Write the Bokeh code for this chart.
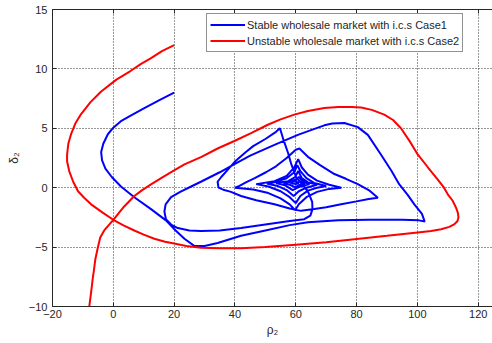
from bokeh.plotting import figure
from bokeh.models import Range1d, Legend, LegendItem, FixedTicker, LinearAxis, CustomJSTickFormatter
from bokeh.embed import file_html
from bokeh.resources import INLINE

# Case 1 (stable) trajectory
blue_x = [20, 15, 10.2, 6, 2.5, 0, -1.8, -3.3, -4.0, -3.7, -2.6, -0.5, 2.5, 6.9, 12.4, 17.3, 20.5, 23.4, 26.6, 30,
          34.3, 42, 50, 58, 64, 74, 84, 95, 100.5, 102.4, 101.5, 99, 96.8, 94, 91.5, 88, 83.7, 80.4, 76, 72,
          69.4, 65, 60.7, 53, 45, 40, 35, 28.8, 25.6, 22, 19, 17.2, 16.8, 17.3, 19, 21.2, 25, 28.8, 35, 42,
          50, 58, 62.8, 64.8, 65.5, 65.4, 64, 62, 60.1, 58.5, 57.5, 56, 54.8, 53.5, 50, 46, 43.6, 40, 37.6, 35.5,
          34.3, 34.6, 36.5, 38.7, 42, 47, 53, 58, 61.7, 66.1, 70, 74.9, 80, 84, 87, 84, 80.4, 76.5, 72.7, 68,
          64, 61.2, 60, 57, 53.5, 50.2, 46.5, 43.6, 41.5, 40,
          46, 51, 55, 58, 59.8, 61, 63.5, 67, 71, 75, 71, 67, 64, 62, 60.8, 59.5, 57, 53, 47,
          51, 55, 58, 60, 61.5, 64, 67, 70, 66, 63.5, 61.5, 60.5, 59.5, 57, 53, 50.5,
          54, 57, 59.3, 61, 63.5, 67, 64, 62, 60.8, 59.8, 57.5, 53.5,
          56.5, 59, 61, 64.5, 62.5, 61, 60, 58, 56,
          58, 59.8, 61, 63, 61.5, 60.5, 59.8, 58, 59, 60, 61, 60.3, 60]
blue_y = [8.0, 7.35, 6.7, 6.1, 5.6, 5.05, 4.5, 3.7, 3.0, 2.3, 1.6, 0.9, 0.1, -0.8, -1.8, -2.75, -3.6, -4.3, -4.9, -4.9,
          -4.65, -4.05, -3.6, -3.15, -2.9, -2.75, -2.7, -2.7, -2.75, -2.85, -2.2, -1.4, -0.6, 0.3, 1.4, 2.8, 4.45, 5.1, 5.45, 5.4,
          5.25, 4.85, 4.45, 3.6, 2.7, 2.0, 1.3, 0.5, 0.1, -0.35, -0.8, -1.4, -2.0, -2.65, -3.1, -3.4, -3.6, -3.65, -3.6, -3.4,
          -3.1, -2.8, -2.65, -2.35, -1.8, -1.2, -0.3, 0.3, 0.9, 2.0, 2.9, 4.0, 5.0, 4.7, 4.1, 3.5, 3.0, 2.2, 1.5, 0.9,
          0.5, 0.0, -0.2, -0.35, -0.7, -1.05, -1.4, -1.75, -1.95, -1.8, -1.65, -1.4, -1.15, -0.95, -0.84, -0.2, 0.3, 0.75, 1.15, 1.9,
          2.6, 3.3, 3.2, 2.5, 1.8, 1.3, 0.8, 0.45, 0.15, 0.0,
          -0.15, -0.45, -0.9, -1.4, -1.9, -1.4, -0.8, -0.35, -0.1, 0.0, 0.25, 0.6, 1.1, 1.7, 2.4, 1.7, 1.0, 0.55, 0.3,
          0.1, -0.3, -0.8, -1.3, -0.7, -0.25, 0.0, 0.15, 0.4, 0.8, 1.4, 1.9, 1.3, 0.8, 0.45, 0.35,
          0.15, -0.2, -0.7, -0.3, 0.0, 0.25, 0.45, 0.8, 1.4, 0.9, 0.55, 0.4,
          0.2, -0.2, 0.05, 0.3, 0.5, 0.9, 0.7, 0.5, 0.4,
          0.25, 0.05, 0.2, 0.35, 0.5, 0.75, 0.55, 0.45, 0.35, 0.3, 0.4, 0.5, 0.4]

# Case 2 (unstable) trajectory
red_x = [20, 16, 12.4, 9, 5.5, 1, -4, -7.5, -10.6, -12.5, -13.9, -14.8, -15.2, -15.2, -14.5, -13.2, -11.6, -9.6, -7.3, -3.5,
         0, 3.5, 6.9, 10, 13.5, 17, 20, 24, 28.9, 35, 42, 50, 60, 70, 79.3, 90, 100.1, 104.5, 107.8, 110.5,
         112.2, 113.2, 113.5, 113.3, 112.7, 111.6, 110, 108.5, 106.5, 103.5, 100.1, 97.5, 94.6, 92, 89.1, 85, 81.5, 78.2, 74, 69.4,
         64, 59.5, 55, 50.8, 45.3, 40, 34.3, 29, 23.4, 20, 16, 12.4, 9.5, 6.9, 3.5, 0, -3, -4.3, -5.1, -5.9,
         -6.4, -6.8, -7.1, -7.5, -7.9, -8.3]
red_y = [12.0, 11.5, 10.9, 10.4, 9.8, 9.1, 8.1, 7.2, 6.2, 5.4, 4.5, 3.7, 2.8, 2.2, 1.4, 0.5, -0.3, -0.85, -1.4, -2.1,
         -2.7, -3.2, -3.6, -3.95, -4.3, -4.55, -4.7, -4.9, -5.05, -5.1, -5.1, -5.0, -4.8, -4.6, -4.33, -4.05, -3.77, -3.65, -3.49, -3.3,
         -3.07, -2.8, -2.5, -2.1, -1.68, -1.1, -0.56, 0.1, 0.75, 1.7, 2.8, 3.9, 5.0, 5.7, 6.15, 6.55, 6.75, 6.8, 6.8, 6.7,
         6.45, 6.15, 5.75, 5.3, 4.6, 3.95, 3.3, 2.6, 1.96, 1.45, 0.85, 0.28, -0.2, -0.7, -1.6, -2.7, -3.6, -4.2, -5.05, -6.0,
         -7.0, -7.7, -8.4, -9.2, -10.0, -11.0]

x_ticks = [-20, 0, 20, 40, 60, 80, 100, 120]
y_ticks = [-10, -5, 0, 5, 10, 15]

FONT = "Liberation Sans"
TXT = "#262626"

p = figure(width=492, height=343, output_backend="svg", toolbar_location=None,
           x_range=Range1d(-20, 124.7), y_range=Range1d(-10, 15),
           min_border_left=52, min_border_right=0, min_border_top=9, min_border_bottom=37)
p.background_fill_color = "white"
p.border_fill_color = "white"
p.outline_line_color = None

r_blue = p.line(blue_x, blue_y, line_color="#0000ff", line_width=2)
r_red = p.line(red_x, red_y, line_color="#ff0000", line_width=2)

# top frame edge with inward ticks only (no labels)
top_axis = LinearAxis(ticker=FixedTicker(ticks=x_ticks),
                      formatter=CustomJSTickFormatter(code="return '';"),
                      major_label_text_color=None, major_label_standoff=0,
                      major_tick_in=4, major_tick_out=0,
                      minor_tick_line_color=None, axis_line_color="#262626",
                      major_tick_line_color="#262626")
p.add_layout(top_axis, "above")

xb = p.below[0]
yl = p.left[0]
for ax, ticks in ((xb, x_ticks), (yl, y_ticks)):
    ax.ticker = FixedTicker(ticks=ticks)
    ax.major_tick_in = 4
    ax.major_tick_out = 0
    ax.minor_tick_line_color = None
    ax.axis_line_color = "#262626"
    ax.major_tick_line_color = "#262626"
    ax.major_label_text_font = FONT
    ax.major_label_text_font_size = "11px"
    ax.major_label_text_color = TXT
    ax.axis_label_text_font = FONT
    ax.axis_label_text_font_size = "12px"
    ax.axis_label_text_font_style = "normal"
    ax.axis_label_text_color = TXT

xb.axis_label = "ρ₂"
yl.axis_label = "δ₂"
xb.major_label_standoff = 3
yl.major_label_standoff = 5
xb.axis_label_standoff = 2
yl.axis_label_standoff = 5

for g, ticks in ((p.xgrid[0], x_ticks), (p.ygrid[0], y_ticks)):
    g.ticker = FixedTicker(ticks=ticks)
    g.grid_line_color = "#303030"
    g.grid_line_dash = "1 2"
    g.grid_line_width = 1

legend = Legend(items=[LegendItem(label="Stable wholesale market with i.c.s Case1", renderers=[r_blue]),
                       LegendItem(label="Unstable wholesale market with i.c.s Case2", renderers=[r_red])],
                location=(154, 254))
legend.label_text_font = FONT
legend.label_text_font_size = "11px"
legend.label_text_color = TXT
legend.border_line_color = "#262626"
legend.border_line_width = 1
legend.background_fill_alpha = 1
legend.glyph_width = 35
legend.glyph_height = 15
legend.label_height = 15
legend.label_standoff = 2
legend.spacing = 1
legend.padding = 3
legend.margin = 0
legend.label_text_baseline = "middle"
p.add_layout(legend, "center")

open("out.html", "w").write(file_html(p, INLINE))
